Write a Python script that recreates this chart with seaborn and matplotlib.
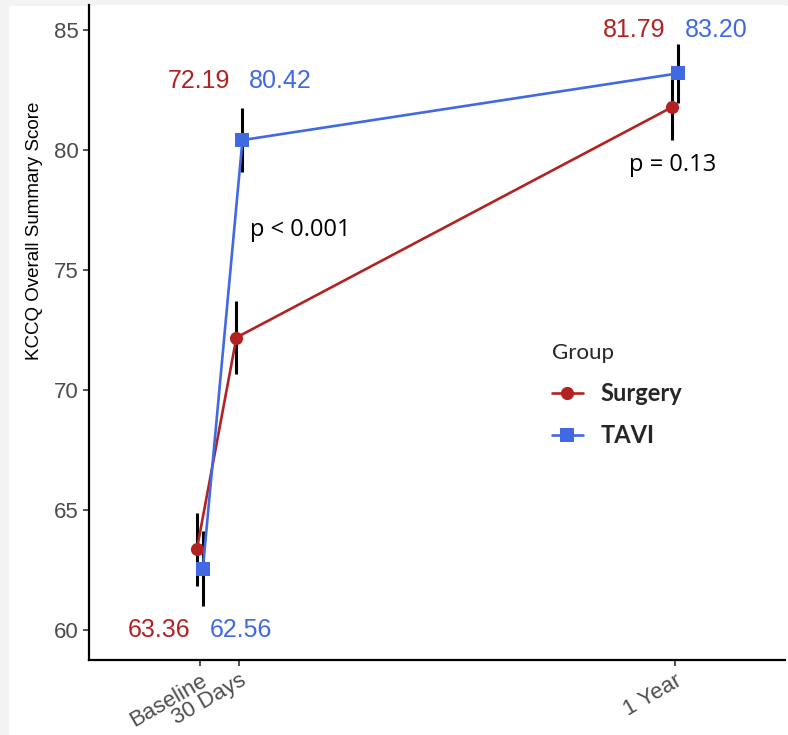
import matplotlib
matplotlib.use("Agg")
import matplotlib.pyplot as plt
import numpy as np
import pandas as pd
import seaborn as sns
from matplotlib.patches import Rectangle

# ---------------------------- data ---------------------------- #
timepoints = ['Baseline', '30 Days', '1 Year']
months = [0, 1, 12]

groups = ['Surgery', 'TAVI']
surgery_mean = [63.36, 72.19, 81.79]
surgery_lo = [61.83, 70.65, 80.42]
surgery_hi = [64.89, 73.73, 83.16]
tavi_mean = [62.56, 80.42, 83.20]
tavi_lo = [61.01, 79.09, 81.97]
tavi_hi = [64.11, 81.75, 84.43]

p_labels = ['p < 0.001', 'p = 0.13']

colors = {'Surgery': '#B22222', 'TAVI': '#4169E1'}
markers = {'Surgery': 'o', 'TAVI': 's'}
dodge = {'Surgery': -0.076, 'TAVI': 0.076}

# build long table
rows = []
for g, m, lo, hi in [('Surgery', surgery_mean, surgery_lo, surgery_hi),
                     ('TAVI', tavi_mean, tavi_lo, tavi_hi)]:
    for t, mo, v, l, h in zip(timepoints, months, m, lo, hi):
        rows.append({'Group': g, 'time': t, 'month': mo, 'x': mo + dodge[g],
                     'score': v, 'lo': l, 'hi': h})
df = pd.DataFrame(rows)

# ---------------------------- plot ---------------------------- #
sns.set_style('ticks')
plt.rcParams['font.family'] = ['Liberation Sans', 'DejaVu Sans']

fig = plt.figure(figsize=(7.88, 7.35), dpi=100)
fig.patch.set_facecolor('#f3f3f3')
fig.add_artist(Rectangle((9 / 788, 0), 1, 1 - 6 / 735, transform=fig.transFigure,
                         facecolor='white', edgecolor='none', zorder=-1))
ax = fig.add_axes([89 / 788, 1 - 660 / 735, (785 - 89) / 788, (660 - 5) / 735])
ax.set_facecolor('white')

# error bars below the lines / markers
for g in groups:
    d = df[df['Group'] == g]
    ax.errorbar(d['x'], d['score'], yerr=[d['score'] - d['lo'], d['hi'] - d['score']],
                fmt='none', ecolor='black', elinewidth=2.2, capsize=0, zorder=1)

sns.lineplot(data=df, x='x', y='score', hue='Group', style='Group',
             palette=colors, markers=markers, dashes=False, markersize=9.5,
             markeredgewidth=0, linewidth=1.9, ax=ax, zorder=2)

# value labels
label_y = [60.0, 82.9, 85.0]
for i, mo in enumerate(months):
    ax.annotate('%.2f' % surgery_mean[i], xy=(mo, label_y[i]), xytext=(-7, 0),
                textcoords='offset points', ha='right', va='center',
                color=colors['Surgery'], fontsize=18)
    ax.annotate('%.2f' % tavi_mean[i], xy=(mo, label_y[i]), xytext=(7, 0),
                textcoords='offset points', ha='left', va='center',
                color=colors['TAVI'], fontsize=18)

# p values
ax.text(1.26, 76.67, p_labels[0], ha='left', va='center', fontsize=17,
        family=['Open Sans', 'DejaVu Sans'], color='black')
ax.text(11.93, 79.4, p_labels[1], ha='center', va='center', fontsize=17,
        family=['Open Sans', 'DejaVu Sans'], color='black')

# axes
ax.set_xlim(-2.8, 14.78)
ax.set_ylim(58.75, 86.05)
ax.set_xticks(months)
ax.set_xticklabels(timepoints, rotation=30, ha='right', rotation_mode='anchor',
                   color='#4d4d4d', fontsize=16)
ax.set_yticks([60, 65, 70, 75, 80, 85])
ax.tick_params(axis='y', labelcolor='#4d4d4d', labelsize=16)
ax.tick_params(axis='both', color='#333333', length=4, width=1.2)
ax.set_xlabel('')
ax.set_ylabel('KCCQ Overall Summary Score', fontsize=13.5, color='black')
ax.yaxis.set_label_coords(-0.066, 0.656)
for s in ['top', 'right']:
    ax.spines[s].set_visible(False)
for s in ['left', 'bottom']:
    ax.spines[s].set_color('black')
    ax.spines[s].set_linewidth(1.6)

# legend
handles, labels = ax.get_legend_handles_labels()
leg = ax.legend(handles, labels, title='Group', frameon=False,
                loc='upper left', bbox_to_anchor=(0.648, 0.502), borderpad=0,
                prop={'family': ['Lato', 'DejaVu Sans'], 'weight': 'bold', 'size': 17},
                title_fontproperties={'family': ['Lato', 'DejaVu Sans'], 'size': 16},
                handlelength=1.3, handletextpad=0.75, labelspacing=0.8)
leg._legend_box.align = 'left'

fig.savefig('out.png', dpi=100)
